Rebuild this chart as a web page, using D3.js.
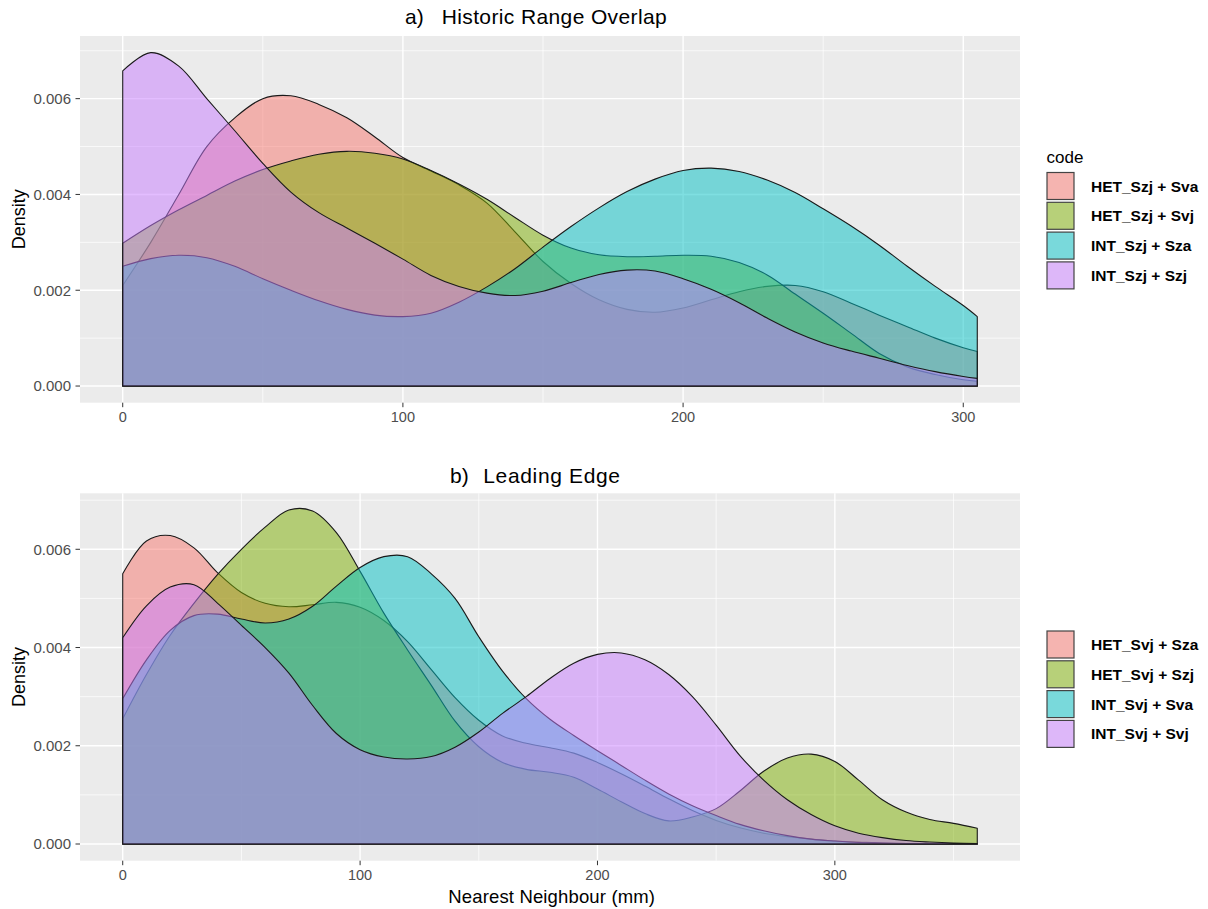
<!DOCTYPE html>
<html><head><meta charset="utf-8">
<script src="https://cdn.jsdelivr.net/npm/d3@7"></script>
<style>
body{margin:0;background:#fff}
svg{display:block}
text{font-family:"Liberation Sans",Arial,Helvetica,sans-serif}
</style>
</head><body>
<svg id="c" width="1208" height="909"></svg>
<script>
// ---------- DATA ----------
// a) Historic Range Overlap
const xTop = [0,10,20,30,40,50,60,70,80,90,100,110,120,130,140,150,160,170,180,190,200,210,220,230,240,250,260,270,280,290,300,305];
const topNames = ["HET_Szj + Sva","HET_Szj + Svj","INT_Szj + Sza","INT_Szj + Szj"];
const topHetSva = [0.00210,0.00300,0.00400,0.00500,0.00560,0.00600,0.00606,0.00588,0.00560,0.00520,0.00477,0.00449,0.00420,0.00382,0.00322,0.00260,0.00214,0.00180,0.00160,0.00154,0.00163,0.00180,0.00197,0.00208,0.00210,0.00197,0.00173,0.00148,0.00124,0.00100,0.00080,0.00072];
const topHetSvj = [0.00298,0.00335,0.00368,0.00398,0.00428,0.00452,0.00470,0.00484,0.00490,0.00486,0.00474,0.00450,0.00422,0.00390,0.00352,0.00315,0.00288,0.00274,0.00270,0.00271,0.00273,0.00271,0.00258,0.00232,0.00192,0.00152,0.00110,0.00068,0.00040,0.00024,0.00013,0.00010];
const topIntSza = [0.00250,0.00266,0.00273,0.00268,0.00250,0.00224,0.00200,0.00178,0.00160,0.00148,0.00145,0.00152,0.00175,0.00207,0.00245,0.00290,0.00333,0.00372,0.00406,0.00432,0.00450,0.00455,0.00448,0.00430,0.00404,0.00370,0.00334,0.00294,0.00250,0.00208,0.00168,0.00145];
const topIntSzj = [0.00658,0.00696,0.00668,0.00600,0.00533,0.00465,0.00405,0.00362,0.00330,0.00298,0.00265,0.00231,0.00208,0.00194,0.00189,0.00198,0.00216,0.00233,0.00242,0.00240,0.00224,0.00202,0.00174,0.00142,0.00113,0.00090,0.00073,0.00058,0.00043,0.00030,0.00020,0.00016];

// b) Leading Edge
const xBot = [0,10,20,30,40,50,60,70,80,90,100,110,120,130,140,150,160,170,180,190,200,210,220,230,240,250,260,270,280,290,300,310,320,330,340,350,360];
const botNames = ["HET_Svj + Sza","HET_Svj + Szj","INT_Svj + Sva","INT_Svj + Svj"];
const botHetSza = [0.00550,0.00617,0.00628,0.00603,0.00552,0.00512,0.00490,0.00483,0.00487,0.00492,0.00482,0.00455,0.00412,0.00355,0.00298,0.00252,0.00220,0.00205,0.00196,0.00185,0.00166,0.00143,0.00118,0.00092,0.00068,0.00048,0.00033,0.00022,0.00015,0.00010,0.00006,0.00004,0.00002,0.00001,0.000005,0.000002,0.000001];
const botHetSzj = [0.00255,0.00345,0.00425,0.00490,0.00549,0.00600,0.00645,0.00680,0.00678,0.00634,0.00555,0.00470,0.00395,0.00323,0.00250,0.00198,0.00166,0.00152,0.00146,0.00136,0.00112,0.00086,0.00062,0.00047,0.00055,0.00072,0.00108,0.00148,0.00175,0.00183,0.00168,0.00130,0.00090,0.00065,0.00050,0.00042,0.00032];
const botIntSva = [0.00296,0.00375,0.00435,0.00465,0.00468,0.00458,0.00450,0.00458,0.00484,0.00525,0.00563,0.00585,0.00585,0.00550,0.00500,0.00422,0.00352,0.00296,0.00254,0.00221,0.00190,0.00160,0.00130,0.00102,0.00078,0.00058,0.00040,0.00027,0.00017,0.00010,0.00006,0.00003,0.00002,0.00001,0.000005,0.000002,0.000001];
const botIntSvj = [0.00420,0.00485,0.00523,0.00528,0.00490,0.00445,0.00400,0.00348,0.00282,0.00225,0.00192,0.00177,0.00173,0.00178,0.00197,0.00228,0.00266,0.00300,0.00337,0.00368,0.00386,0.00389,0.00375,0.00345,0.00300,0.00242,0.00180,0.00130,0.00090,0.00060,0.00037,0.00022,0.00013,0.00007,0.00004,0.00002,0.00001];

const xTickVals = [0,100,200,300];
const yTickVals = [0,0.002,0.004,0.006];
const legendTitle = "code";
const fillColors = ["#F8766D","#7CAE00","#00BFC4","#C77CFF"];

// ---------- DRAW ----------
const svg = d3.select("#c");

function panel(o){
  const g = svg.append("g");
  const xmin = d3.min(o.xs), xmax = d3.max(o.xs);
  const xr = xmax - xmin;
  const ymax = d3.max(o.series, s => d3.max(s));
  const x = d3.scaleLinear().domain([xmin - 0.05*xr, xmax + 0.05*xr]).range([o.left, o.right]);
  const y = d3.scaleLinear().domain([-0.05*ymax, ymax*1.05]).range([o.bottom, o.top]);

  g.append("rect").attr("x", o.left).attr("y", o.top)
    .attr("width", o.right - o.left).attr("height", o.bottom - o.top).attr("fill", "#EBEBEB");

  // grid
  const xStep = xTickVals[1] - xTickVals[0];
  const xMin = [];
  xTickVals.concat([xTickVals[xTickVals.length-1] + xStep]).forEach(v => {
    [v - xStep/2, v + xStep/2].forEach(m => {
      if (x(m) > o.left && x(m) < o.right && !xMin.includes(m)) xMin.push(m);
    });
  });
  const yStep = yTickVals[1] - yTickVals[0];
  const yMin = [];
  yTickVals.concat([yTickVals[yTickVals.length-1] + yStep]).forEach(v => {
    [v - yStep/2, v + yStep/2].forEach(m => {
      if (y(m) > o.top && y(m) < o.bottom && !yMin.includes(m)) yMin.push(m);
    });
  });
  g.selectAll(".xmin").data(xMin).enter().append("line")
    .attr("x1", d => x(d)).attr("x2", d => x(d)).attr("y1", o.top).attr("y2", o.bottom)
    .attr("stroke", "#fff").attr("stroke-width", 0.7);
  g.selectAll(".ymin").data(yMin).enter().append("line")
    .attr("y1", d => y(d)).attr("y2", d => y(d)).attr("x1", o.left).attr("x2", o.right)
    .attr("stroke", "#fff").attr("stroke-width", 0.7);
  g.selectAll(".xmaj").data(xTickVals.filter(v => x(v) < o.right)).enter().append("line")
    .attr("x1", d => x(d)).attr("x2", d => x(d)).attr("y1", o.top).attr("y2", o.bottom)
    .attr("stroke", "#fff").attr("stroke-width", 1.4);
  g.selectAll(".ymaj").data(yTickVals).enter().append("line")
    .attr("y1", d => y(d)).attr("y2", d => y(d)).attr("x1", o.left).attr("x2", o.right)
    .attr("stroke", "#fff").attr("stroke-width", 1.4);

  // densities
  const area = d3.area()
    .x(d => x(d[0])).y0(y(0)).y1(d => y(Math.max(0, d[1])))
    .curve(d3.curveCatmullRom.alpha(0.5));
  o.series.forEach((s, i) => {
    const pts = o.xs.map((xv, j) => [xv, s[j]]);
    g.append("path").attr("d", area(pts))
      .attr("fill", fillColors[i]).attr("fill-opacity", 0.5)
      .attr("stroke", "#1a1a1a").attr("stroke-width", 1.1).attr("stroke-linejoin", "round");
  });

  // y axis
  const ya = g.append("g");
  yTickVals.forEach(v => {
    ya.append("line").attr("x1", o.left - 4.5).attr("x2", o.left).attr("y1", y(v)).attr("y2", y(v))
      .attr("stroke", "#333").attr("stroke-width", 1);
    ya.append("text").attr("x", o.left - 9).attr("y", y(v)).attr("dy", "0.36em")
      .attr("text-anchor", "end").attr("fill", "#4D4D4D").attr("font-size", 15)
      .text(d3.format(".3f")(v));
  });
  // x axis
  const xa = g.append("g");
  xTickVals.filter(v => x(v) < o.right).forEach(v => {
    xa.append("line").attr("x1", x(v)).attr("x2", x(v)).attr("y1", o.bottom).attr("y2", o.bottom + 4.5)
      .attr("stroke", "#333").attr("stroke-width", 1);
    xa.append("text").attr("x", x(v)).attr("y", o.bottom + 19.5)
      .attr("text-anchor", "middle").attr("fill", "#4D4D4D").attr("font-size", 14.5)
      .text(v);
  });

  // y title
  g.append("text").attr("transform", `translate(25,${(o.top + o.bottom)/2}) rotate(-90)`)
    .attr("text-anchor", "middle").attr("font-size", 18).attr("fill", "#000").text("Density");

  // panel title
  g.append("text").attr("x", o.titleX).attr("y", o.titleY).attr("font-size", 21).attr("fill", "#000").text(o.tag);
  g.append("text").attr("x", o.titleX2).attr("y", o.titleY).attr("font-size", 21).attr("fill", "#000")
    .attr("textLength", o.titleW).attr("lengthAdjust", "spacing").text(o.title);

  // legend
  const lg = g.append("g");
  if (o.legendTitle) {
    lg.append("text").attr("x", 1046.5).attr("y", o.legendY - 10).attr("font-size", 17).attr("fill", "#000").text(o.legendTitle);
  }
  o.names.forEach((n, i) => {
    const ky = o.legendY + i * 29.8;
    lg.append("rect").attr("x", 1047).attr("y", ky).attr("width", 27).attr("height", 27).attr("fill", "#F2F2F2");
    lg.append("rect").attr("x", 1047).attr("y", ky).attr("width", 27).attr("height", 27)
      .attr("fill", fillColors[i]).attr("fill-opacity", 0.5).attr("stroke", "#444").attr("stroke-width", 1.2);
    lg.append("text").attr("x", 1091).attr("y", ky + 13.5).attr("dy", "0.36em")
      .attr("font-size", 15.5).attr("font-weight", "bold").attr("fill", "#000").text(n);
  });
}

panel({
  xs: xTop, series: [topHetSva, topHetSvj, topIntSza, topIntSzj], names: topNames,
  left: 80, right: 1020, top: 36, bottom: 402.7,
  tag: "a)", title: "Historic Range Overlap", titleX: 405, titleX2: 441.7, titleY: 24, titleW: 225,
  legendTitle: legendTitle, legendY: 172.5
});
panel({
  xs: xBot, series: [botHetSza, botHetSzj, botIntSva, botIntSvj], names: botNames,
  left: 80, right: 1020, top: 493.3, bottom: 860.7,
  tag: "b)", title: "Leading Edge", titleX: 450, titleX2: 483.3, titleY: 483, titleW: 136.7,
  legendTitle: null, legendY: 631
});

svg.append("text").attr("x", 448.3).attr("y", 903).attr("font-size", 18.5).attr("fill", "#000")
  .attr("textLength", 206.7).attr("lengthAdjust", "spacing").text("Nearest Neighbour (mm)");
</script>
</body></html>
